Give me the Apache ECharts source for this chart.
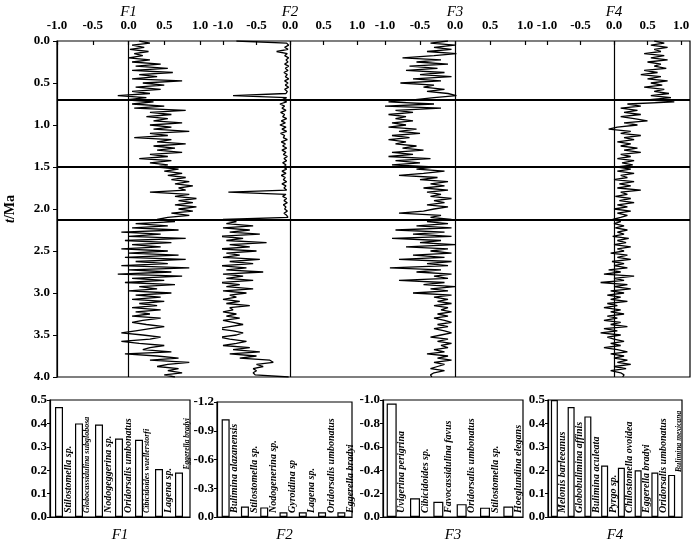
<!DOCTYPE html>
<html><head><meta charset="utf-8">
<script src="https://cdn.jsdelivr.net/npm/echarts@6/dist/echarts.min.js"></script>
<style>html,body{margin:0;padding:0;background:#fff}#c{width:700px;height:544px}</style>
</head><body><div id="c"></div>
<script>
// ---- Top panel: factor loadings vs age (Ma) ----
const ages = [
0,0.025,0.05,0.075,0.1,0.125,0.15,0.175,0.2,0.225,
0.25,0.275,0.3,0.325,0.35,0.375,0.4,0.425,0.45,0.475,
0.5,0.525,0.55,0.575,0.6,0.625,0.65,0.675,0.7,0.725,
0.75,0.775,0.8,0.825,0.85,0.875,0.9,0.925,0.95,0.975,
1,1.025,1.05,1.075,1.1,1.125,1.15,1.175,1.2,1.225,
1.25,1.275,1.3,1.325,1.35,1.375,1.4,1.425,1.45,1.475,
1.5,1.525,1.55,1.575,1.6,1.625,1.65,1.675,1.7,1.725,
1.75,1.775,1.8,1.825,1.85,1.875,1.9,1.925,1.95,1.975,
2,2.025,2.05,2.075,2.1,2.125,2.15,2.175,2.2,2.225,
2.25,2.275,2.3,2.325,2.35,2.375,2.4,2.425,2.45,2.475,
2.5,2.525,2.55,2.575,2.6,2.625,2.65,2.675,2.7,2.725,
2.75,2.775,2.8,2.825,2.85,2.875,2.9,2.925,2.95,2.975,
3,3.025,3.05,3.075,3.1,3.125,3.15,3.175,3.2,3.225,
3.25,3.275,3.3,3.325,3.35,3.375,3.4,3.425,3.45,3.475,
3.5,3.525,3.55,3.575,3.6,3.625,3.65,3.675,3.7,3.725,
3.75,3.775,3.8,3.825,3.85,3.875,3.9,3.925,3.95,3.975,
4];
const f1Curve = [
0.15,0.30,0.05,0.22,0.02,0.28,0.08,0.20,0.00,0.30,
0.05,0.45,0.10,0.55,0.05,0.62,0.15,0.40,0.05,0.75,
0.20,0.50,0.10,0.45,0.05,0.30,-0.15,0.25,-0.05,0.35,
0.05,0.50,0.08,0.80,0.30,0.60,0.25,0.55,0.35,0.75,
0.30,0.60,0.35,0.85,0.30,0.55,0.08,0.60,0.40,0.80,
0.35,0.65,0.40,0.75,0.30,0.55,0.15,0.60,0.30,0.55,
0.40,0.70,0.50,0.75,0.55,0.80,0.60,0.85,0.65,0.90,
0.70,0.80,0.30,0.85,0.65,0.95,0.70,0.90,0.65,0.95,
0.70,0.90,0.60,0.85,0.55,0.40,0.65,0.10,0.55,0.05,
0.70,-0.10,0.45,0.00,0.80,-0.05,0.60,0.05,0.45,-0.10,
0.55,0.00,0.70,-0.05,0.80,0.10,0.55,-0.10,0.85,0.00,
0.60,-0.15,0.75,0.05,0.50,-0.05,0.65,0.15,0.40,0.00,
0.60,0.10,0.45,0.05,0.50,0.15,0.40,0.05,0.45,0.10,
0.30,0.05,0.45,0.20,0.05,0.25,0.50,0.30,0.10,-0.10,
0.20,0.45,0.30,-0.10,0.15,0.50,0.30,0.20,0.60,-0.05,
0.40,0.70,0.30,0.85,0.55,0.40,0.70,0.55,0.75,0.50,
0.65];
const f2Curve = [
-0.80,-0.05,-0.02,-0.08,-0.03,-0.20,-0.04,-0.08,-0.02,-0.06,
-0.03,-0.08,-0.02,-0.07,-0.03,-0.09,-0.04,-0.07,-0.02,-0.08,
-0.03,-0.07,-0.02,-0.08,-0.04,-0.06,-0.85,-0.05,-0.12,-0.05,
-0.15,-0.08,-0.12,-0.06,-0.14,-0.08,-0.11,-0.05,-0.13,-0.07,
-0.15,-0.06,-0.12,-0.05,-0.14,-0.08,-0.10,-0.04,-0.13,-0.07,
-0.11,-0.05,-0.12,-0.06,-0.10,-0.04,-0.09,-0.05,-0.11,-0.06,
-0.10,-0.05,-0.12,-0.06,-0.13,-0.07,-0.10,-0.05,-0.12,-0.06,
-0.09,-0.05,-0.92,-0.06,-0.11,-0.05,-0.09,-0.04,-0.10,-0.06,
-0.08,-0.04,-0.09,-0.05,-0.03,-1.00,-0.80,-0.95,-0.55,-1.00,
-0.60,-0.90,-0.45,-1.05,-0.70,-0.95,-0.35,-0.90,-0.60,-1.05,
-0.50,-0.95,-0.75,-1.00,-0.45,-0.90,-0.55,-1.05,-0.65,-0.95,
-0.40,-1.00,-0.70,-0.95,-0.55,-1.05,-0.75,-0.95,-0.55,-1.00,
-0.65,-0.90,-0.80,-1.00,-0.75,-0.95,-0.60,-0.90,-0.85,-1.00,
-0.80,-0.95,-0.75,-1.00,-0.85,-0.70,-0.90,-1.08,-0.85,-0.70,
-0.80,-1.05,-0.90,-0.65,-0.80,-1.00,-0.60,-0.85,-0.45,-0.90,
-0.50,-0.75,-0.30,-0.25,-0.50,-0.40,-0.55,-0.50,-0.55,-0.52,
-0.02];
const f3Curve = [
-0.10,-0.35,0.00,-0.30,-0.05,-0.40,0.02,-0.30,-0.75,-0.20,
-0.55,-0.10,-0.65,-0.25,-0.70,-0.15,-0.50,-0.05,-0.60,-0.20,
-0.78,-0.30,-0.45,-0.15,-0.40,-0.10,0.02,-0.30,-0.60,-0.95,
-0.30,-1.00,-0.20,-0.85,-0.60,-0.95,-0.70,-0.85,-0.60,-0.90,
-0.70,-0.95,-0.55,-0.80,-0.50,-0.90,-0.65,-0.95,-0.70,-0.85,
-0.55,-0.75,-0.45,-0.90,-0.60,-0.95,-0.35,-0.85,-0.50,-0.90,
-0.30,-0.55,-0.15,-0.45,-0.80,-0.25,-0.50,-0.10,-0.35,-0.15,
-0.45,-0.10,-0.40,-0.20,-0.35,-0.05,-0.30,-0.15,-0.40,-0.10,
-0.30,-0.45,-0.80,-0.20,-0.35,-0.05,-0.40,-0.10,-0.55,-0.05,
-0.85,-0.15,-0.60,-0.05,-0.90,-0.20,-0.50,0.00,-0.70,-0.10,
-0.35,-0.05,-0.60,-0.15,-0.80,-0.05,-0.40,-0.10,-0.93,-0.20,
-0.55,-0.05,-0.30,-0.10,-0.80,-0.15,-0.45,0.00,-0.35,-0.10,
-0.60,-0.05,-0.30,-0.10,-0.25,-0.05,-0.30,-0.10,-0.20,-0.05,
-0.25,-0.10,-0.30,-0.15,-0.05,-0.25,-0.10,-0.30,-0.15,-0.05,
-0.20,-0.35,-0.10,-0.25,-0.05,-0.20,-0.10,-0.30,-0.15,-0.40,
-0.10,-0.25,-0.05,-0.30,-0.15,-0.25,-0.35,-0.15,-0.30,-0.35,
-0.33];
const f4Curve = [
0.60,0.75,0.55,0.80,0.60,0.70,0.45,0.75,0.55,0.80,
0.50,0.70,0.60,0.78,0.45,0.65,0.40,0.70,0.50,0.80,
0.55,0.72,0.45,0.75,0.60,0.82,0.55,0.85,0.50,0.90,
0.20,0.40,0.10,0.35,0.15,0.40,0.10,0.30,0.50,0.15,
0.35,0.05,-0.08,0.25,0.10,0.40,0.15,0.30,0.05,0.25,
0.10,0.35,0.15,0.40,0.10,0.25,0.05,0.30,0.12,0.28,
0.05,0.25,0.05,0.30,0.10,0.20,0.00,0.30,0.08,0.25,
0.05,0.40,0.10,0.20,0.02,0.25,0.08,0.30,0.05,0.20,
0.00,0.25,0.05,0.20,0.10,-0.02,0.10,0.00,0.15,0.02,
0.20,0.05,0.15,-0.02,0.22,0.05,0.18,0.00,0.25,0.05,
0.15,-0.05,0.20,0.05,0.25,-0.03,0.15,0.00,0.20,-0.08,
0.10,-0.15,0.30,0.00,0.15,-0.20,0.20,0.00,0.25,-0.05,
0.15,-0.10,0.10,-0.05,0.20,-0.10,0.05,-0.15,0.10,-0.05,
0.15,-0.10,0.05,-0.15,0.10,-0.05,0.20,-0.15,0.05,-0.20,
0.10,-0.10,0.00,0.15,-0.05,0.10,-0.15,0.05,0.20,-0.05,
0.15,0.00,0.20,0.05,0.25,0.00,0.18,-0.05,0.10,0.15,
0.13];
const boundaries = [0.7, 1.5, 2.13];
const factorNames = ['F1','F2','F3','F4'];

// ---- Bottom panels: species loadings ----
const f1Species = ['Stilostomella sp.','Globocassidulina subglobosa','Nodogeggerina sp.','Oridorsalis umbonatus','Cibicidoides wuellerstorfi','Lagena sp.','Eggerella bradyi'];
const f1Loadings = [0.47,0.40,0.395,0.335,0.33,0.205,0.19];
const f2Species = ['Bulimina alazanensis','Stilostomella sp.','Nodogenerina sp.','Gyroidina sp','Lagena sp.','Oridorsalis umbonatus','Eggerella bradyi'];
const f2Loadings = [-1.02,-0.11,-0.10,-0.05,-0.05,-0.05,-0.05];
const f3Species = ['Uvigerina perigrina','Cibicidoides sp.','Favocassidulina favus','Oridorsalis umbonatus','Stilostomella sp.','Hoeglundina elegans'];
const f3Loadings = [-0.97,-0.16,-0.13,-0.11,-0.08,-0.09];
const f4Species = ['Melonis barleeanus','Globobulimina affinis','Bulimina aculeata','Pyrgo sp.','Chilostomella ovoidea','Eggerella bradyi','Oridorsalis umbonatus','Bulimina mexicana'];
const f4Loadings = [0.50,0.47,0.43,0.22,0.21,0.20,0.19,0.18];

// ---- build option ----
const FONT = 'Liberation Serif';
const curves = [f1Curve, f2Curve, f3Curve, f4Curve];
const topGrids = [
  {left:57, width:143}, {left:223, width:134}, {left:385, width:140}, {left:547, width:134}
];
const grids = [], xAxes = [], yAxes = [], series = [];
grids.push({left:57, right:10, top:41, height:336, show:true, borderColor:'#000', borderWidth:1.2, backgroundColor:'transparent', outerBoundsMode:'none'});
xAxes.push({gridIndex:0, type:'value', min:0, max:1, show:false});
yAxes.push({gridIndex:0, type:'value', min:0, max:4, interval:0.5, inverse:true,
  name:'{i|t}/Ma', nameLocation:'middle', nameGap:40, nameRotate:90, nameMoveOverlap:false,
  nameTextStyle:{fontFamily:FONT, fontSize:14, color:'#000', fontWeight:'bold', rich:{i:{fontStyle:'italic', fontFamily:FONT, fontSize:14, fontWeight:'bold'}}},
  axisLine:{show:true, lineStyle:{color:'#000', width:1.2}},
  axisTick:{show:true, inside:false, length:4, lineStyle:{color:'#000'}},
  axisLabel:{fontFamily:FONT, fontSize:13, fontWeight:'bold', color:'#000', margin:7, formatter:v=>v.toFixed(1)},
  splitLine:{show:false}});
series.push({type:'line', xAxisIndex:0, yAxisIndex:0, data:[[0,0]], symbol:'none', lineStyle:{width:0}, silent:true,
  markLine:{silent:true, symbol:'none', label:{show:false}, lineStyle:{color:'#000', width:2, type:'solid'},
    data: boundaries.map(v=>({yAxis:v}))}});
topGrids.forEach((g,k)=>{
  const gi = grids.length;
  grids.push({left:g.left, width:g.width, top:41, height:336, outerBoundsMode:'none'});
  xAxes.push({gridIndex:gi, type:'value', position:'top', min:-1, max:1, interval:0.5,
    name:factorNames[k], nameLocation:'middle', nameGap:21, nameMoveOverlap:false,
    nameTextStyle:{fontFamily:FONT, fontSize:15, fontStyle:'italic', color:'#000'},
    axisLine:{show:false}, axisTick:{show:true, inside:true, length:4, lineStyle:{color:'#000', width:1.2}},
    axisLabel:{fontFamily:FONT, fontSize:13, fontWeight:'bold', color:'#000', margin:9, formatter:v=>v.toFixed(1)},
    splitLine:{show:false}});
  yAxes.push({gridIndex:gi, type:'value', min:0, max:4, inverse:true, show:false});
  series.push({type:'line', xAxisIndex:gi, yAxisIndex:gi, symbol:'none', showSymbol:false,
    data: ages.map((t,i)=>[curves[k][i], t]),
    lineStyle:{color:'#000', width:1.3},
    markLine:{silent:true, symbol:'none', label:{show:false}, lineStyle:{color:'#000', width:1.2, type:'solid'}, data:[{xAxis:0}]}});
});

const barPanels = [
  {species:f1Species, vals:f1Loadings, left:50, width:140, top:400, height:117, min:0, max:0.5, interval:0.1, inverse:false, bw:8, sw:2, topLabel:6, name:'F1'},
  {species:f2Species, vals:f2Loadings, left:217, width:135, top:402, height:115, min:-1.2, max:0, interval:0.3, inverse:true, bw:8, sw:2, topLabel:-1, name:'F2'},
  {species:f3Species, vals:f3Loadings, left:383, width:140, top:400, height:117, min:-1.0, max:0, interval:0.2, inverse:true, bw:10, sw:6, topLabel:-1, name:'F3'},
  {species:f4Species, vals:f4Loadings, left:548, width:134, top:400, height:117, min:0, max:0.5, interval:0.1, inverse:false, bw:7, sw:4, topLabel:7, name:'F4'}
];
barPanels.forEach(p=>{
  const gi = grids.length;
  grids.push({left:p.left, width:p.width, top:p.top, height:p.height, show:true, borderColor:'#000', borderWidth:1.2, backgroundColor:'transparent', outerBoundsMode:'none'});
  xAxes.push({gridIndex:gi, type:'category', data:p.species, position:'bottom',
    name:p.name, nameLocation:'middle', nameGap:11, nameMoveOverlap:false,
    nameTextStyle:{fontFamily:FONT, fontSize:15, fontStyle:'italic', color:'#000'},
    axisLine:{show:true, lineStyle:{color:'#000', width:1.2}}, axisTick:{show:false}, axisLabel:{show:false}});
  yAxes.push({gridIndex:gi, type:'value', min:p.min, max:p.max, interval:p.interval, inverse:p.inverse,
    axisLine:{show:true, lineStyle:{color:'#000', width:1.2}},
    axisTick:{show:true, inside:false, length:3, lineStyle:{color:'#000'}},
    axisLabel:{fontFamily:FONT, fontSize:13, fontWeight:'bold', color:'#000', margin:3, formatter:v=>v.toFixed(1)},
    splitLine:{show:false}});
  series.push({type:'bar', xAxisIndex:gi, yAxisIndex:gi, barWidth:p.bw, barGap:'0%',
    itemStyle:{color:'#fff', borderColor:'#000', borderWidth:1.2},
    data: p.vals.map((v,i)=>{
      if (i === p.topLabel) return {value:v, label:{fontSize:7.5, position:['100%','0%'], offset:[3,0]}};
      return {value:v, label:{fontSize: p.species[i].length > 22 ? 8 : 10}};
    }),
    label:{show:true, position:['100%','100%'], rotate:90, align:'left', verticalAlign:'top', offset:[4,0],
      fontFamily:FONT, fontStyle:'italic', fontWeight:'bold', color:'#000', formatter:q=>q.name}});
  // transparent spacer keeping room for the species name beside each bar
  series.push({type:'bar', xAxisIndex:gi, yAxisIndex:gi, barWidth:p.sw, barGap:'0%', silent:true,
    itemStyle:{color:'transparent'}, data:p.vals.map(()=>'-')});
});

const chart = echarts.init(document.getElementById('c'), null, {renderer:'canvas'});
chart.setOption({animation:false, backgroundColor:'#fff', textStyle:{fontFamily:FONT},
  grid:grids, xAxis:xAxes, yAxis:yAxes, series:series});
</script></body></html>
